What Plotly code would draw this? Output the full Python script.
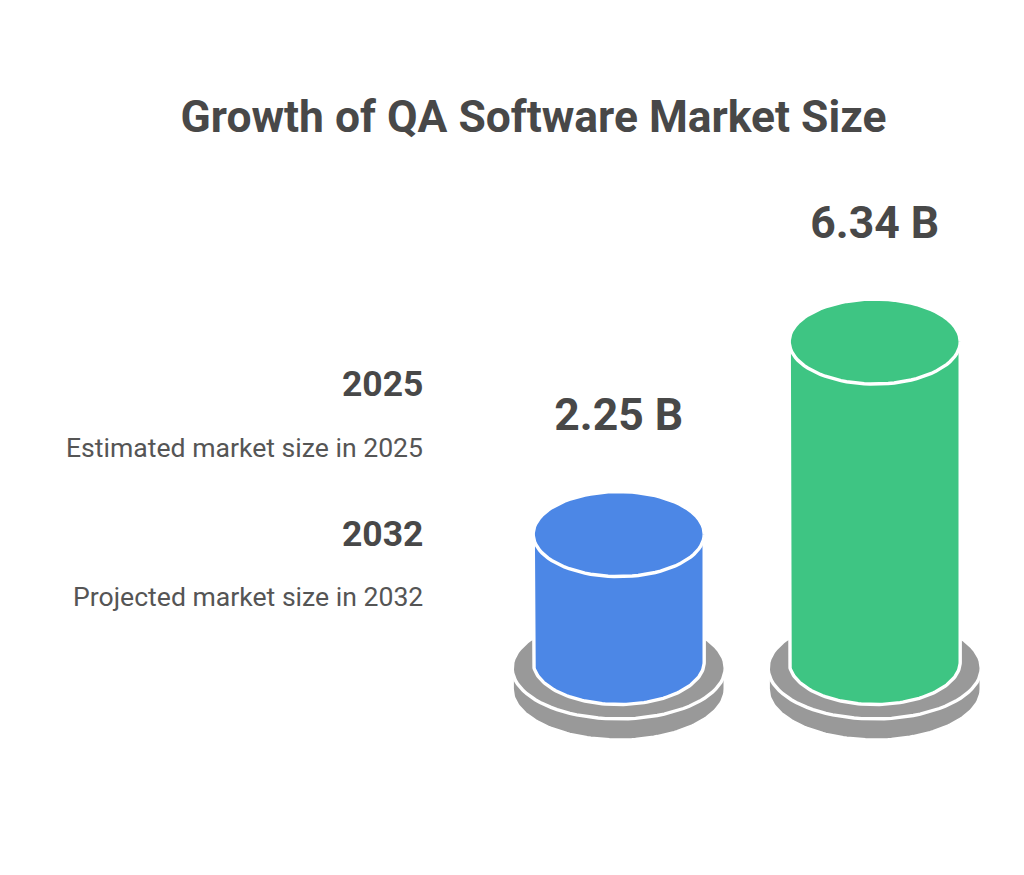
"""Growth of QA software market size, drawn as two cylinders on disks."""
import numpy as np
import plotly.graph_objects as go

TITLE = 'Growth of QA Software Market Size'
years = ['2025', '2032']
descriptions = ['Estimated market size in 2025', 'Projected market size in 2032']
market_size = [2.25, 6.34]
value_labels = ['2.25 B', '6.34 B']
colors = ['#4C87E6', '#3EC583']

TEXT_COLOR = '#484848'
DISK_COLOR = '#999999'
FONT = 'Roboto'

# Axis scales, everything below is in axis units
W, H = 1024, 875
PX_PER_CAT = 256
PX_PER_B = 47.07
ZERO_X_PX = 618.7
ZERO_Y_PX = 640

RX = 85.5 / PX_PER_CAT
RY = 42.5 / PX_PER_B
DISK_RX = 106.5 / PX_PER_CAT
DISK_RY = 51 / PX_PER_B
FLOOR = -22 / PX_PER_B          # centre of the cylinder's bottom ellipse
DISK_TOP = FLOOR - 6 / PX_PER_B
DISK_THICK = 21 / PX_PER_B


def arc(cx, cy, rx, ry, start, stop):
    t = np.linspace(start, stop, 90)
    return cx + rx * np.cos(t), cy + ry * np.sin(t)


def add_path(fig, x, y, fill, line_width=3.4):
    fig.add_trace(go.Scatter(
        x=x, y=y, mode='lines', fill='toself', fillcolor=fill,
        line=dict(color='white', width=line_width),
        hoverinfo='skip', showlegend=False
    ))


fig = go.Figure()

for i, value in enumerate(market_size):
    # Lower edge of the disk
    x1, y1 = arc(i, DISK_TOP, DISK_RX, DISK_RY, 0, np.pi)
    x2, y2 = arc(i, DISK_TOP - DISK_THICK, DISK_RX, DISK_RY, np.pi, 2 * np.pi)
    add_path(fig, np.r_[x1, x2, x1[0]], np.r_[y1, y2, y1[0]], DISK_COLOR)

    # Upper face of the disk
    x1, y1 = arc(i, DISK_TOP, DISK_RX, DISK_RY, 0, 2 * np.pi)
    add_path(fig, x1, y1, DISK_COLOR)

    # Cylinder body, then its top
    x1, y1 = arc(i, FLOOR, RX, RY, np.pi, 2 * np.pi)
    body_x = np.r_[i - RX, x1, i + RX, i - RX]
    body_y = np.r_[value, y1, value, value]
    add_path(fig, body_x, body_y, colors[i])

    x1, y1 = arc(i, value, RX, RY, 0, 2 * np.pi)
    add_path(fig, x1, y1, colors[i])

# Value labels above each cylinder
fig.add_trace(go.Scatter(
    x=[0, 1],
    y=[v + 115 / PX_PER_B for v in market_size],
    mode='text',
    text=value_labels,
    textposition='middle center',
    textfont=dict(family=FONT, size=44.5, color=TEXT_COLOR, weight='bold'),
    hoverinfo='skip', showlegend=False
))

# Legend text on the left
for year, desc, y_year, y_desc in zip(years, descriptions, [384, 534], [447.5, 596.5]):
    fig.add_annotation(
        text=f'<b>{year}</b>', xref='paper', yref='paper', x=425 / W, y=1 - y_year / H,
        xanchor='right', yanchor='middle', showarrow=False,
        font=dict(family=FONT, size=35.5, color=TEXT_COLOR)
    )
    fig.add_annotation(
        text=desc, xref='paper', yref='paper', x=425 / W, y=1 - y_desc / H,
        xanchor='right', yanchor='middle', showarrow=False,
        font=dict(family=FONT, size=26.6, color='#555555')
    )

fig.update_layout(
    title=dict(
        text=f'<b>{TITLE}</b>',
        x=533.5 / W, xanchor='center', y=1 - 116 / H, yanchor='middle',
        font=dict(family=FONT, size=44.4, color=TEXT_COLOR)
    ),
    width=W,
    height=H,
    margin=dict(l=0, r=0, t=0, b=0),
    paper_bgcolor='white',
    plot_bgcolor='white',
    xaxis=dict(
        visible=False,
        range=[-ZERO_X_PX / PX_PER_CAT, (W - ZERO_X_PX) / PX_PER_CAT]
    ),
    yaxis=dict(
        visible=False,
        range=[(ZERO_Y_PX - H) / PX_PER_B, ZERO_Y_PX / PX_PER_B]
    )
)

fig.write_html(
    "out.html",
    config={'displayModeBar': False},
    post_script="document.body.style.margin='0';"
)
